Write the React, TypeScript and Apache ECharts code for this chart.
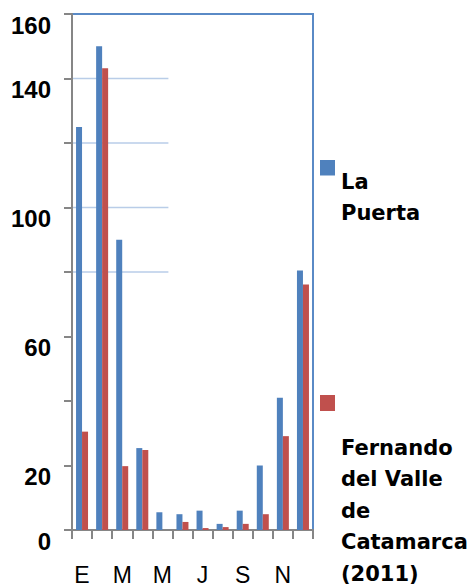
import React, { useEffect, useRef } from 'react';
import * as echarts from 'echarts';

const months = ['Ene', 'Feb', 'Mar', 'Abr', 'May', 'Jun', 'Jul', 'Ago', 'Sep', 'Oct', 'Nov', 'Dic'];
const laPuerta = [125, 150, 90, 25.4, 5.5, 4.9, 6, 1.9, 6, 20, 41, 80.5];
const fernando = [30.5, 143.2, 19.8, 24.8, 0, 2.5, 0.6, 0.9, 1.9, 4.9, 29.1, 76.1];
const yLabelsShown = [0, 20, 60, 100, 140, 160];
const partialGridValues = [80, 100, 120, 140, 160];
const seriesNames = ['La Puerta', 'Fernando del Valle de Catamarca (2011)'];
const legendTexts = ['La\nPuerta', 'Fernando\ndel Valle\nde\nCatamarca\n(2011)'];

const BLUE = '#4F81BD';
const RED = '#C0504D';
const AXIS = '#868686';

const G_LEFT = 72;
const G_RIGHT = 157;
const G_TOP = 14;
const G_BOTTOM = 54;
const W = 470;
const H = 586;

export default function App() {
  const ref = useRef<HTMLDivElement>(null);

  useEffect(() => {
    if (!ref.current) return;
    const chart = echarts.init(ref.current, undefined, { renderer: 'svg' });
    const option: any = {
      animation: false,
      backgroundColor: '#ffffff',
      grid: {
        left: G_LEFT,
        right: G_RIGHT,
        top: G_TOP,
        bottom: G_BOTTOM,
        show: true,
        borderColor: '#5A8AC6',
        borderWidth: 2,
      },
      xAxis: {
        type: 'category',
        data: months,
        boundaryGap: true,
        axisLine: { lineStyle: { color: AXIS, width: 2 } },
        axisTick: { show: true, interval: 0, length: 9, lineStyle: { color: AXIS, width: 2 } },
        axisLabel: {
          interval: 1,
          formatter: (v: string) => v.charAt(0),
          fontFamily: 'Liberation Sans',
          fontSize: 23,
          color: '#000',
          margin: 33,
          verticalAlign: 'top',
        },
        splitLine: { show: false },
      },
      yAxis: {
        type: 'value',
        min: 0,
        max: 160,
        interval: 20,
        axisLine: { show: true, lineStyle: { color: AXIS, width: 2 } },
        axisTick: { show: true, length: 8, lineStyle: { color: AXIS, width: 2 } },
        axisLabel: {
          formatter: (v: number) => (yLabelsShown.includes(v) ? String(v) : ''),
          fontFamily: 'Liberation Sans',
          fontWeight: 'bold',
          fontSize: 24,
          color: '#000',
          margin: 21,
          verticalAlign: 'top',
          lineHeight: 22,
        },
        splitLine: { show: false },
      },
      series: [
        {
          name: seriesNames[0],
          type: 'bar',
          data: laPuerta,
          barWidth: 6,
          barGap: '0%',
          itemStyle: { color: BLUE },
        },
        {
          name: seriesNames[1],
          type: 'bar',
          data: fernando,
          barWidth: 6,
          barGap: '0%',
          itemStyle: { color: RED },
        },
      ],
    };
    chart.setOption(option);

    const gridW = W - G_LEFT - G_RIGHT;
    const xEnd = G_LEFT + 0.4 * gridW;
    const lines = partialGridValues.map((v) => {
      const y = chart.convertToPixel({ yAxisIndex: 0 }, v) as number;
      return {
        type: 'line',
        shape: { x1: G_LEFT + 1, y1: y, x2: xEnd, y2: y },
        style: { stroke: v === 160 ? '#5A8AC6' : '#B9CDE8', lineWidth: v === 160 ? 2 : 1.5 },
        z: 1,
      };
    });

    const legend = [
      { type: 'rect', shape: { x: 320, y: 160, width: 15, height: 15.5 }, style: { fill: BLUE } },
      {
        type: 'text',
        x: 341,
        y: 166,
        style: {
          text: legendTexts[0],
          font: 'bold 21px "DejaVu Sans"',
          fill: '#000',
          lineHeight: 31.5,
          verticalAlign: 'top',
        },
      },
      { type: 'rect', shape: { x: 320, y: 395, width: 15, height: 16 }, style: { fill: RED } },
      {
        type: 'text',
        x: 341,
        y: 432,
        style: {
          text: legendTexts[1],
          font: 'bold 21px "DejaVu Sans"',
          fill: '#000',
          lineHeight: 31.5,
          verticalAlign: 'top',
        },
      },
    ];

    chart.setOption({ graphic: [...lines, ...legend] });

    return () => chart.dispose();
  }, []);

  return (
    <div
      ref={ref}
      style={{ position: 'fixed', left: 0, top: 0, width: W, height: H }}
    />
  );
}
